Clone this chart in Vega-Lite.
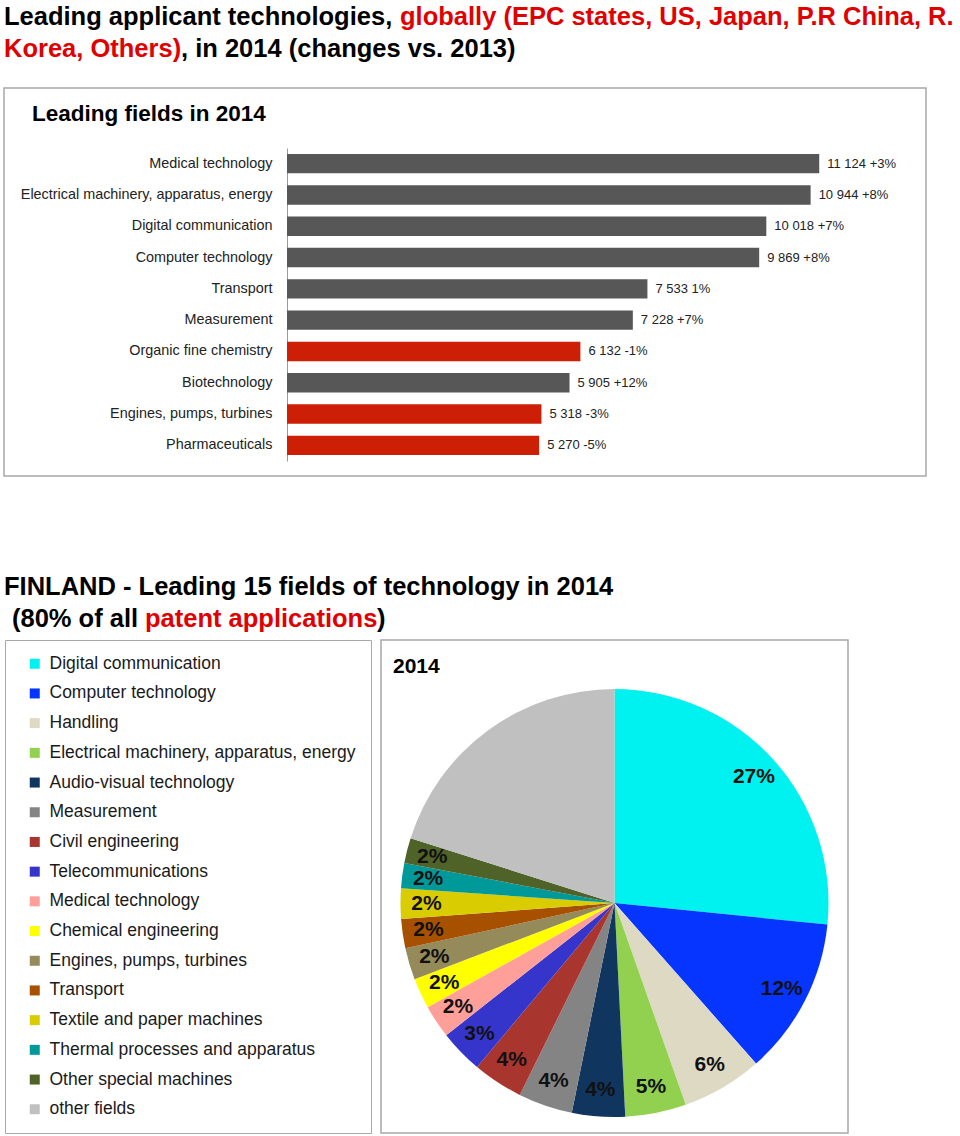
{
  "$schema": "https://vega.github.io/schema/vega-lite/v6.json",
  "padding": {"left": 1, "top": 5, "right": 0, "bottom": 0},
  "background": "white",
  "config": {
    "font": "Liberation Sans",
    "view": {"stroke": "#a8a8a8", "strokeWidth": 1.5},
    "title": {"anchor": "start", "frame": "group", "font": "Liberation Sans", "fontWeight": "bold", "fontSize": 25.5, "color": "#000000", "limit": 2000}
  },
  "datasets": {
    "fields": [
      {"field": "Medical technology", "applications": 11124, "label": "11 124 +3%", "trend": "up"},
      {"field": "Electrical machinery, apparatus, energy", "applications": 10944, "label": "10 944 +8%", "trend": "up"},
      {"field": "Digital communication", "applications": 10018, "label": "10 018 +7%", "trend": "up"},
      {"field": "Computer technology", "applications": 9869, "label": "9 869 +8%", "trend": "up"},
      {"field": "Transport", "applications": 7533, "label": "7 533 1%", "trend": "up"},
      {"field": "Measurement", "applications": 7228, "label": "7 228 +7%", "trend": "up"},
      {"field": "Organic fine chemistry", "applications": 6132, "label": "6 132 -1%", "trend": "down"},
      {"field": "Biotechnology", "applications": 5905, "label": "5 905 +12%", "trend": "up"},
      {"field": "Engines, pumps, turbines", "applications": 5318, "label": "5 318 -3%", "trend": "down"},
      {"field": "Pharmaceuticals", "applications": 5270, "label": "5 270 -5%", "trend": "down"}
    ],
    "finland": [
      {"rank": 1, "field": "Digital communication", "share": 26.6, "label": "27%"},
      {"rank": 2, "field": "Computer technology", "share": 11.9, "label": "12%"},
      {"rank": 3, "field": "Handling", "share": 6.1, "label": "6%"},
      {"rank": 4, "field": "Electrical machinery, apparatus, energy", "share": 4.6, "label": "5%"},
      {"rank": 5, "field": "Audio-visual technology", "share": 4.0, "label": "4%"},
      {"rank": 6, "field": "Measurement", "share": 4.1, "label": "4%"},
      {"rank": 7, "field": "Civil engineering", "share": 3.8, "label": "4%"},
      {"rank": 8, "field": "Telecommunications", "share": 3.3, "label": "3%"},
      {"rank": 9, "field": "Medical technology", "share": 2.5, "label": "2%"},
      {"rank": 10, "field": "Chemical engineering", "share": 2.3, "label": "2%"},
      {"rank": 11, "field": "Engines, pumps, turbines", "share": 2.4, "label": "2%"},
      {"rank": 12, "field": "Transport", "share": 2.2, "label": "2%"},
      {"rank": 13, "field": "Textile and paper machines", "share": 2.3, "label": "2%"},
      {"rank": 14, "field": "Thermal processes and apparatus", "share": 1.9, "label": "2%"},
      {"rank": 15, "field": "Other special machines", "share": 1.9, "label": "2%"},
      {"rank": 16, "field": "other fields", "share": 20.1, "label": ""}
    ]
  },
  "spacing": 98,
  "resolve": {"scale": {"color": "independent"}, "legend": {"color": "independent"}},
  "vconcat": [
    {
      "title": {"text": "globally (EPC states, US, Japan, P.R China, R.", "color": "#e00000", "dx": 396, "offset": -25.5},
      "vconcat": [
        {
          "title": {"text": "Leading applicant technologies,", "offset": 6.5},
          "vconcat": [
            {
              "title": {"text": ", in 2014 (changes vs. 2013)", "dx": 177, "offset": -25.5},
              "vconcat": [
                {
                  "title": {"text": "Korea, Others)", "color": "#e00000", "offset": 24.5},
                  "vconcat": [
                    {
                      "width": 922,
                      "height": 388,
                      "title": {"text": "Leading fields in 2014", "fontSize": 22.5, "dx": 28, "offset": -37.5},
                      "data": {"name": "fields"},
                      "encoding": {
                        "y": {
                          "field": "field", "type": "nominal", "sort": null,
                          "scale": {"range": [60, 373], "paddingInner": 0.38, "paddingOuter": 0.19},
                          "axis": {"orient": "left", "offset": -283, "title": null, "ticks": false, "grid": false, "domainColor": "#9a9a9a", "domainWidth": 1, "labelFont": "Liberation Sans", "labelFontSize": 14.4, "labelColor": "#222222", "labelPadding": 15, "labelLimit": 400}
                        },
                        "x": {"field": "applications", "type": "quantitative", "scale": {"domain": [0, 13000], "range": [283, 905]}, "axis": null}
                      },
                      "layer": [
                        {
                          "mark": {"type": "bar"},
                          "encoding": {
                            "color": {"field": "trend", "type": "nominal", "scale": {"domain": ["up", "down"], "range": ["#575757", "#cc1f05"]}, "legend": null}
                          }
                        },
                        {
                          "mark": {"type": "text", "align": "left", "baseline": "middle", "dx": 8, "fontSize": 13, "font": "Liberation Sans", "color": "#222222"},
                          "encoding": {"text": {"field": "label"}}
                        }
                      ]
                    }
                  ]
                }
              ]
            }
          ]
        }
      ]
    },
    {
      "title": {"text": "FINLAND - Leading 15 fields of technology in 2014", "dx": 0, "offset": 6.5},
      "resolve": {"scale": {"color": "independent"}, "legend": {"color": "independent"}},
      "vconcat": [
        {
          "title": {"text": ")", "dx": 373, "offset": -25.5},
          "resolve": {"scale": {"color": "independent"}, "legend": {"color": "independent"}},
          "vconcat": [
            {
              "title": {"text": "patent applications", "color": "#e00000", "dx": 141, "offset": -25.5},
              "resolve": {"scale": {"color": "independent"}, "legend": {"color": "independent"}},
              "vconcat": [
                {
                  "title": {"text": "(80% of all", "dx": 8, "offset": 6.5},
                  "resolve": {"scale": {"color": "independent"}, "legend": {"color": "independent"}},
                  "vconcat": [
                    {
                      "spacing": 8,
                      "resolve": {"scale": {"color": "independent"}, "legend": {"color": "independent"}},
                      "hconcat": [
                        {
                          "width": 1,
                          "height": 493,
                          "view": {"stroke": null},
                          "data": {"name": "finland"},
                          "mark": {"type": "square", "opacity": 0},
                          "encoding": {
                            "color": {
                              "field": "field", "type": "nominal",
                              "scale": {
                                "domain": ["Digital communication", "Computer technology", "Handling", "Electrical machinery, apparatus, energy", "Audio-visual technology", "Measurement", "Civil engineering", "Telecommunications", "Medical technology", "Chemical engineering", "Engines, pumps, turbines", "Transport", "Textile and paper machines", "Thermal processes and apparatus", "Other special machines", "other fields"],
                                "range": ["#00f2f0", "#0635ff", "#ddd9c3", "#92d050", "#10355f", "#848484", "#a9352f", "#3535cc", "#ff9f9a", "#ffff00", "#948a5a", "#a65000", "#d9cc00", "#00999a", "#4f6228", "#c0c0c0"]
                              },
                              "legend": {"orient": "right", "offset": 0, "title": null, "symbolType": "square", "symbolSize": 100, "symbolStrokeWidth": 0, "symbolOpacity": 1, "symbolOffset": 6, "labelFontSize": 17.5, "labelFont": "Liberation Sans", "labelColor": "#1a1a1a", "labelOffset": 6, "rowPadding": 10.7, "padding": 15, "strokeColor": "#a8a8a8", "labelLimit": 400}
                            }
                          }
                        },
                        {
                          "width": 467,
                          "height": 493,
                          "view": {"stroke": "#a8a8a8", "strokeWidth": 1.5, "fill": "white"},
                          "title": {"text": "2014", "fontSize": 21, "dx": 12, "offset": -37.4},
                          "data": {"name": "finland"},
                          "encoding": {
                            "theta": {"field": "share", "type": "quantitative", "stack": true},
                            "order": {"field": "rank", "type": "quantitative"}
                          },
                          "layer": [
                            {
                              "mark": {"type": "arc", "radius": 214, "yOffset": 16.5},
                              "encoding": {
                                "color": {
                                  "field": "field", "type": "nominal",
                                  "scale": {
                                    "domain": ["Digital communication", "Computer technology", "Handling", "Electrical machinery, apparatus, energy", "Audio-visual technology", "Measurement", "Civil engineering", "Telecommunications", "Medical technology", "Chemical engineering", "Engines, pumps, turbines", "Transport", "Textile and paper machines", "Thermal processes and apparatus", "Other special machines", "other fields"],
                                    "range": ["#00f2f0", "#0635ff", "#ddd9c3", "#92d050", "#10355f", "#848484", "#a9352f", "#3535cc", "#ff9f9a", "#ffff00", "#948a5a", "#a65000", "#d9cc00", "#00999a", "#4f6228", "#c0c0c0"]
                                  },
                                  "legend": null
                                }
                              }
                            },
                            {
                              "mark": {"type": "text", "radius": 188, "yOffset": 16.5, "fontSize": 21, "fontWeight": "bold", "font": "Liberation Sans", "color": "#111111"},
                              "encoding": {"text": {"field": "label"}}
                            }
                          ]
                        }
                      ]
                    }
                  ]
                }
              ]
            }
          ]
        }
      ]
    }
  ]
}
